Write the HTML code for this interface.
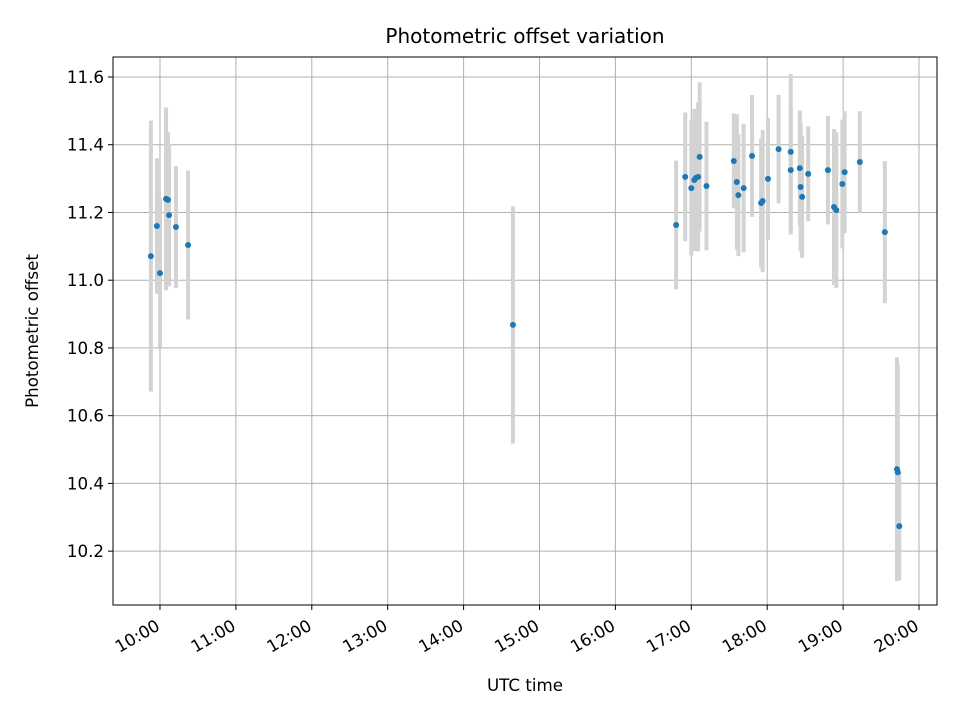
<!DOCTYPE html>
<html><head><meta charset="utf-8"><style>
body{margin:0;background:#fff;}
svg text{font-family:"DejaVu Sans","Liberation Sans",sans-serif;fill:#000;}
</style></head><body>
<svg id="chart" width="960" height="720" xmlns="http://www.w3.org/2000/svg">
<rect width="960" height="720" fill="#fff"/>
<g id="grid"></g>
<g id="errs"></g>
<g id="pts"></g>
<rect x="113" y="57" width="824" height="548" fill="none" stroke="#000" stroke-width="1"/>
<g id="ticks"></g>
<text x="525" y="43" font-size="20" text-anchor="middle">Photometric offset variation</text>
<text x="525" y="691" font-size="16.7" text-anchor="middle">UTC time</text>
<text x="38" y="331" font-size="16.7" text-anchor="middle" transform="rotate(-90 38 331)">Photometric offset</text>
</svg>
<script>
const times=[9.88,9.96,10.0,10.08,10.105,10.12,10.21,10.37,14.65,16.80,16.92,17.00,17.04,17.06,17.09,17.11,17.20,17.56,17.60,17.62,17.69,17.80,17.92,17.94,18.01,18.15,18.31,18.31,18.43,18.44,18.46,18.54,18.80,18.88,18.91,18.99,19.02,19.22,19.55,19.71,19.72,19.74];
const values=[11.071,11.160,11.021,11.240,11.237,11.192,11.157,11.104,10.868,11.163,11.305,11.272,11.296,11.302,11.305,11.364,11.278,11.352,11.290,11.251,11.272,11.367,11.228,11.234,11.299,11.387,11.379,11.325,11.331,11.275,11.246,11.314,11.325,11.216,11.207,11.284,11.319,11.349,11.142,10.442,10.433,10.274];
const errors=[0.40,0.20,0.22,0.27,0.20,0.21,0.18,0.22,0.35,0.19,0.19,0.20,0.21,0.20,0.22,0.22,0.19,0.14,0.20,0.18,0.19,0.18,0.19,0.21,0.18,0.16,0.23,0.19,0.17,0.19,0.18,0.14,0.16,0.23,0.23,0.19,0.18,0.15,0.21,0.33,0.32,0.16];
const yTicks=[10.2,10.4,10.6,10.8,11.0,11.2,11.4,11.6];
const xTicks=[10,11,12,13,14,15,16,17,18,19,20];
const X0=113,X1=937,Y0=57,Y1=605,xmin=9.381,xmax=20.237,ymin=10.041,ymax=11.659;
const sx=v=>X0+(v-xmin)/(xmax-xmin)*(X1-X0);
const sy=v=>Y1-(v-ymin)/(ymax-ymin)*(Y1-Y0);
const NS="http://www.w3.org/2000/svg";
function mk(t,a,p){const e=document.createElementNS(NS,t);for(const k in a)e.setAttribute(k,a[k]);p.appendChild(e);return e;}
const grid=document.getElementById('grid'),ticks=document.getElementById('ticks'),errs=document.getElementById('errs'),pts=document.getElementById('pts');
yTicks.forEach(v=>{const y=sy(v);
 const g=mk('line',{x1:X0,x2:X1,y1:y,y2:y,stroke:'#b0b0b0','stroke-width':1},grid);
 
 
 const t=mk('line',{x1:X0-5,x2:X0,y1:y,y2:y,stroke:'#000'},ticks);
 
 
 const l=mk('text',{x:X0-9,y:y+6,'font-size':16.7,'text-anchor':'end'},ticks);l.textContent=v.toFixed(1);
 
 
});
xTicks.forEach(h=>{const x=sx(h);
 const g=mk('line',{x1:x,x2:x,y1:Y0,y2:Y1,stroke:'#b0b0b0','stroke-width':1},grid);
 
 
 const t=mk('line',{x1:x,x2:x,y1:Y1,y2:Y1+5,stroke:'#000'},ticks);
 
 
 const l=mk('text',{x:x+1,y:Y1+24,'font-size':16.7,'text-anchor':'end',transform:`rotate(-30 ${x+1} ${Y1+24})`},ticks);l.textContent=h+':00';
 
 
});
times.forEach((t,i)=>{const x=sx(t);
 const e=mk('line',{x1:x,x2:x,y1:sy(values[i]+errors[i]),y2:sy(values[i]-errors[i]),stroke:'#d3d3d3','stroke-width':4},errs);
 
 
});
times.forEach((t,i)=>{
 const c=mk('circle',{cx:sx(t),cy:sy(values[i]),r:3,fill:'#1f77b4'},pts);
 
 
});
</script>
</body></html>
